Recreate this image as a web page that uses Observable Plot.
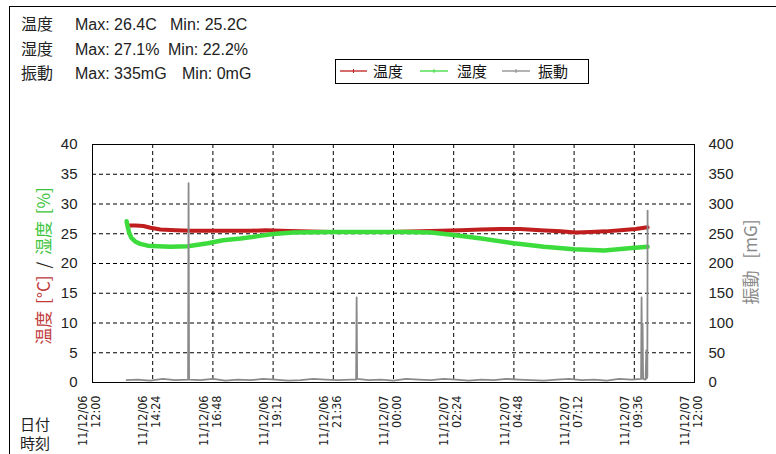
<!DOCTYPE html>
<html><head><meta charset="utf-8">
<script src="https://cdn.jsdelivr.net/npm/d3@7"></script>
<script src="https://cdn.jsdelivr.net/npm/@observablehq/plot@0.6"></script>
<style>
body{margin:0;background:#fff}
#wrap{position:relative;width:776px;height:454px;overflow:hidden;background:#fff;font-family:"Liberation Sans",Arial,"Noto Sans CJK JP",sans-serif;color:#222}
#border{position:absolute;left:9px;top:6px;width:900px;height:600px;border:1px solid #000}
#chart{position:absolute;left:0;top:0}
.t{position:absolute;white-space:pre;line-height:20px;height:20px}
.cjk{font-family:"Noto Sans CJK JP",sans-serif}
</style></head>
<body><div id="wrap"><div id="border"></div><div id="chart"></div></div>
<script>
// ---- data ----
const statLabels = ["温度", "湿度", "振動"];
const statMax = ["Max: 26.4C", "Max: 27.1%", "Max: 335mG"];
const statMin = ["Min: 25.2C", "Min: 22.2%", "Min: 0mG"];
const seriesNames = ["温度", "湿度", "振動"];

const xTickHours = [0, 2.4, 4.8, 7.2, 9.6, 12, 14.4, 16.8, 19.2, 21.6, 24];
const xTickLabels = ["11/12/06\n12:00", "11/12/06\n14:24", "11/12/06\n16:48", "11/12/06\n19:12", "11/12/06\n21:36",
  "11/12/07\n00:00", "11/12/07\n02:24", "11/12/07\n04:48", "11/12/07\n07:12", "11/12/07\n09:36", "11/12/07\n12:00"];
const yTicks = [0, 5, 10, 15, 20, 25, 30, 35, 40];
const vibTicks = [0, 50, 100, 150, 200, 250, 300, 350, 400];

const tempHours = [1.47, 1.71, 2.03, 2.31, 2.71, 3.31, 3.91, 4.70, 5.50, 6.30, 6.90, 7.50, 8.29, 9.49, 10.68, 11.88, 13.08, 13.87, 14.67, 15.47, 16.27, 17.06, 17.86, 18.66, 19.26, 19.85, 20.45, 21.05, 21.65, 22.13];
const tempValues = [26.4, 26.4, 26.3, 26.0, 25.7, 25.6, 25.5, 25.5, 25.5, 25.5, 25.6, 25.5, 25.4, 25.3, 25.3, 25.3, 25.4, 25.5, 25.6, 25.7, 25.8, 25.8, 25.6, 25.4, 25.2, 25.3, 25.4, 25.6, 25.8, 26.1];

const humHours = [1.36, 1.40, 1.46, 1.55, 1.70, 1.90, 2.20, 2.60, 3.10, 3.80, 4.60, 5.20, 5.90, 6.60, 7.20, 8.00, 9.50, 11.00, 12.50, 13.50, 14.40, 15.50, 16.80, 18.00, 19.20, 20.40, 21.50, 22.13];
const humValues = [27.1, 26.2, 25.2, 24.3, 23.7, 23.3, 23.0, 22.9, 22.8, 22.9, 23.4, 23.9, 24.2, 24.6, 24.95, 25.2, 25.3, 25.3, 25.3, 25.2, 24.8, 24.2, 23.4, 22.8, 22.4, 22.2, 22.6, 22.8];

const vibHours = [1.36, 1.8, 2.3, 2.8, 3.3, 3.81, 3.83, 3.85, 4.3, 4.8, 5.3, 5.8, 6.3, 6.8, 7.3, 7.8, 8.3, 8.8, 9.3, 9.8, 10.3, 10.51, 10.53, 10.55,
  11.0, 11.5, 12.0, 12.5, 13.0, 13.5, 14.0, 14.5, 15.0, 15.5, 16.0, 16.5, 17.0, 17.5, 18.0, 18.5, 19.0, 19.5, 20.0, 20.5, 21.0, 21.5,
  21.87, 21.89, 21.91, 21.93, 21.95, 22.05, 22.08, 22.10, 22.12, 22.13];
const vibValues = [4, 5, 3, 6, 4, 5, 335, 5, 4, 6, 3, 5, 4, 6, 5, 3, 4, 6, 5, 4, 5, 5, 143, 6,
  4, 5, 3, 6, 5, 4, 6, 5, 3, 5, 4, 6, 5, 4, 3, 5, 6, 4, 5, 3, 6, 5,
  6, 143, 8, 99, 6, 5, 54, 7, 10, 289];

const RED = "#c01e1e", GREEN = "#3ddc3d", GRAY = "#8a8a8a";

const temp = tempHours.map((h, i) => ({h, v: tempValues[i]}));
const hum = humHours.map((h, i) => ({h, v: humValues[i]}));
const vib = vibHours.map((h, i) => ({h, v: vibValues[i]}));

const grid = {stroke: "#000", strokeOpacity: 1, strokeWidth: 1, strokeDasharray: "4,3"};
const chart = Plot.plot({
  width: 776, height: 454,
  marginTop: 144, marginBottom: 72, marginLeft: 92, marginRight: 82,
  style: {background: "transparent", fontFamily: "'Liberation Sans', Arial, sans-serif", fontSize: "15px", color: "#222"},
  x: {domain: [0, 24], axis: null},
  y: {domain: [0, 40], axis: null},
  marks: [
    Plot.gridY(yTicks.slice(1, -1), grid),
    Plot.gridX(xTickHours.slice(1, -1), grid),
    Plot.line(temp, {x: "h", y: "v", stroke: RED, strokeWidth: 4, curve: "linear"}),
    Plot.line(hum, {x: "h", y: "v", stroke: GREEN, strokeWidth: 4.5, curve: "linear"}),
    Plot.line(vib, {x: "h", y: d => d.v / 10, stroke: GRAY, strokeWidth: 1.8}),
    Plot.frame({stroke: "#000"}),
    Plot.axisY(yTicks, {anchor: "left", tickSize: 0, tickPadding: 15, label: null, fontSize: 15}),
    Plot.axisY(vibTicks.map(v => v / 10), {anchor: "right", tickSize: 0, tickPadding: 14, label: null, fontSize: 15, tickFormat: (d, i) => vibTicks[i]}),
    Plot.text(xTickHours, {x: d => d, text: (d, i) => xTickLabels[i], frameAnchor: "bottom", rotate: -90, textAnchor: "end", lineAnchor: "middle",
      dy: 13, dx: -3, lineHeight: 1.05, fontSize: 12.5, fontFamily: "'DejaVu Sans Condensed', 'DejaVu Sans', sans-serif", fill: "#222"})
  ]
});
document.getElementById("chart").appendChild(chart);

const wrap = document.getElementById("wrap");
function addText(txt, left, top, opts = {}) {
  const d = document.createElement("div");
  d.className = "t" + (opts.cjk ? " cjk" : "");
  d.textContent = txt;
  d.style.left = left + "px"; d.style.top = top + "px";
  d.style.fontSize = (opts.size || 16) + "px";
  if (opts.lh) { d.style.lineHeight = opts.lh + "px"; d.style.height = "auto"; }
  if (opts.color) d.style.color = opts.color;
  wrap.appendChild(d);
  return d;
}
// header stats
const rowTops = [15, 40, 64];
const minLeft = [170, 168, 182];
statLabels.forEach((s, i) => {
  addText(s, 21, rowTops[i] - 2, {cjk: true, size: 16});
  addText(statMax[i], 75, rowTops[i], {size: 16});
  addText(statMin[i], minLeft[i], rowTops[i], {size: 16});
});

// legend
const leg = document.createElement("div");
leg.style.cssText = "position:absolute;left:335px;top:59px;width:252px;height:23px;border:1px solid #000;background:#fff";
wrap.appendChild(leg);
const legColors = [RED, GREEN, GRAY];
const legSeg = [[340, 367], [420, 448], [502, 530]];
const legText = [373, 457, 538];
seriesNames.forEach((n, i) => {
  const ns = "http://www.w3.org/2000/svg";
  const s = document.createElementNS(ns, "svg");
  s.setAttribute("width", 40); s.setAttribute("height", 10);
  s.style.cssText = `position:absolute;left:${legSeg[i][0]}px;top:66px`;
  const w = legSeg[i][1] - legSeg[i][0];
  s.innerHTML = `<line x1="0" y1="5" x2="${w}" y2="5" stroke="${legColors[i]}" stroke-width="1.3"/><line x1="${w/2}" y1="3" x2="${w/2}" y2="7" stroke="${legColors[i]}" stroke-width="1"/>`;
  wrap.appendChild(s);
  addText(n, legText[i], 61, {cjk: true, size: 15, color: "#111"});
});

// axis titles
const lt = document.createElement("div");
lt.className = "cjk";
lt.style.cssText = "position:absolute;left:43px;top:266px;transform:translate(-50%,-50%) rotate(-90deg);white-space:pre;font-size:17px;line-height:20px;word-spacing:3px";
lt.innerHTML = `<span style="color:#c03a3a">温度 [°C]</span> <span style="color:#222">/</span> <span style="color:#3cc43c">湿度 [%]</span>`;
wrap.appendChild(lt);
const rt = document.createElement("div");
rt.className = "cjk";
rt.style.cssText = "position:absolute;left:750px;top:262px;transform:translate(-50%,-50%) rotate(-90deg);white-space:pre;font-size:17px;line-height:20px;color:#8a8a8a;word-spacing:8px";
rt.textContent = "振動 [mG]";
wrap.appendChild(rt);

// date/time caption (one two-line block)
addText("日付\n時刻", 20, 414, {cjk: true, size: 15, lh: 19});
</script></body></html>
